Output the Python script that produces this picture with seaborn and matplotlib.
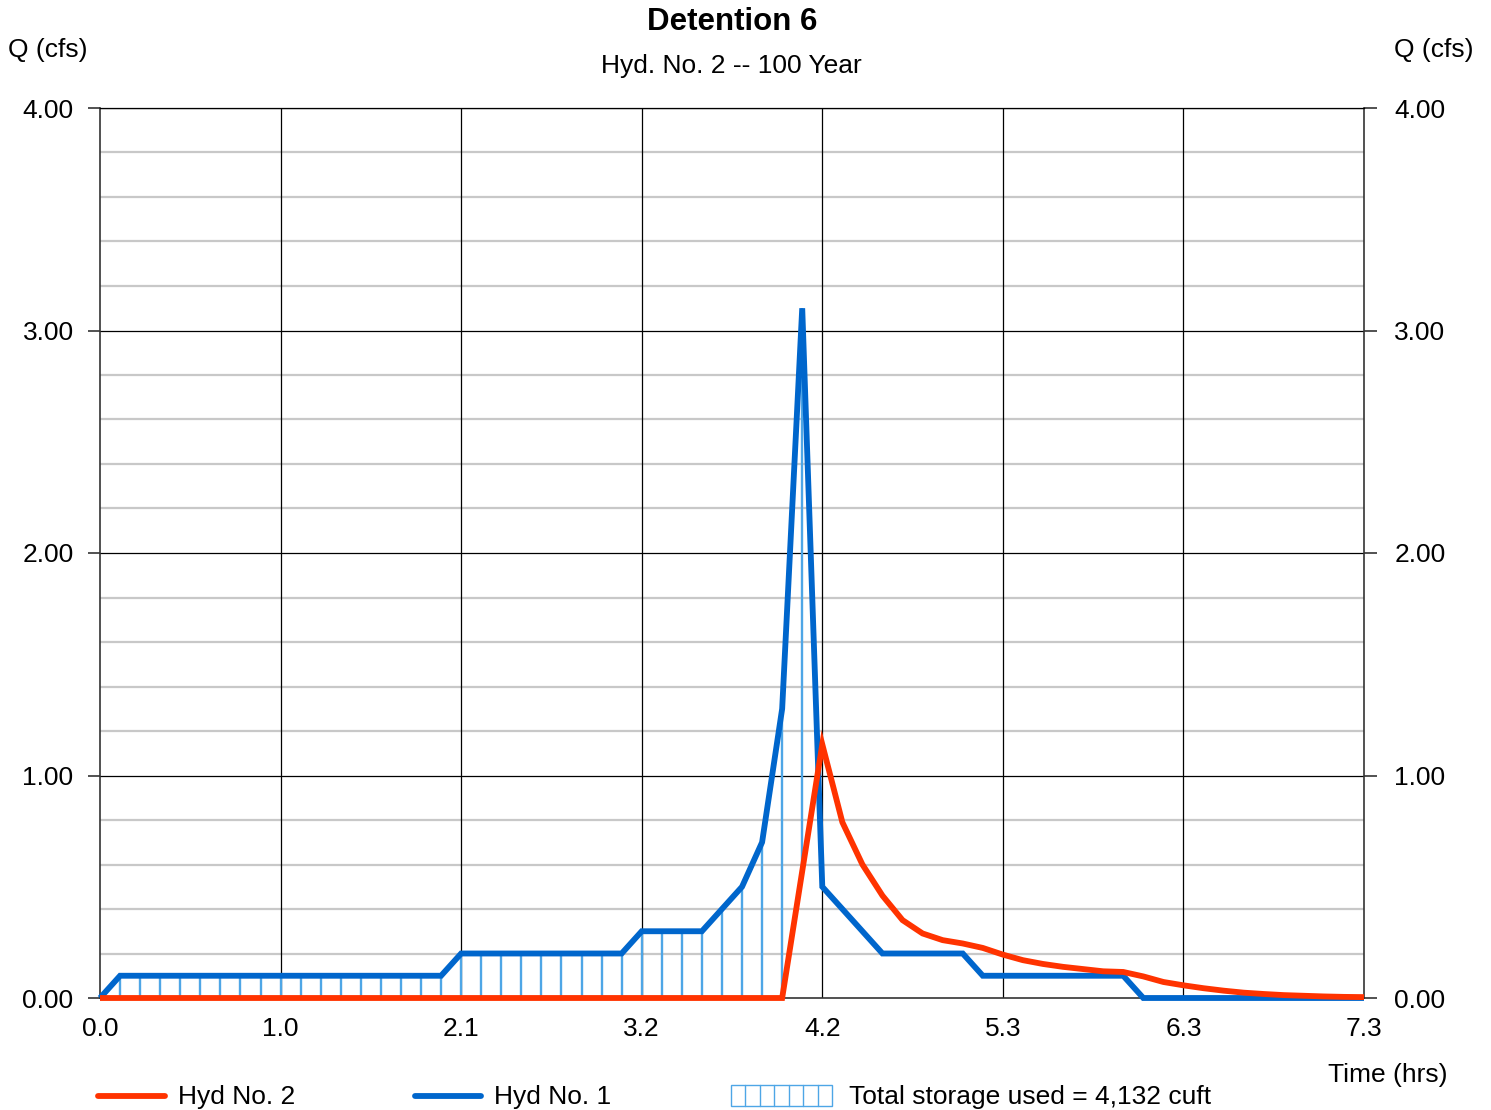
import numpy as np
import pandas as pd
import matplotlib
matplotlib.use("Agg")
import matplotlib.pyplot as plt
import matplotlib.transforms as mtransforms
import seaborn as sns
from matplotlib.lines import Line2D
from matplotlib.patches import Rectangle

# Hydrograph ordinates at a 7-minute time step
dt_hr = 7.0 / 60.0
hyd1_inflow = [0.0] + [0.1] * 17 + [0.2] * 9 + [0.3] * 4 + \
    [0.4, 0.5, 0.7, 1.3, 3.1, 0.5, 0.4, 0.3] + [0.2] * 5 + [0.1] * 8 + [0.0] * 12
hyd2_outflow = [0.0] * 35 + [
    0.57, 1.14, 0.79, 0.60, 0.46, 0.35, 0.29, 0.26, 0.245, 0.225,
    0.195, 0.17, 0.153, 0.14, 0.13, 0.12, 0.117, 0.097, 0.072, 0.057,
    0.044, 0.033, 0.024, 0.018, 0.013, 0.010, 0.007, 0.005, 0.004]
x_tick_labels = ["0.0", "1.0", "2.1", "3.2", "4.2", "5.3", "6.3", "7.3"]
y_ticks = [0.0, 1.0, 2.0, 3.0, 4.0]
y_tick_labels = ["0.00", "1.00", "2.00", "3.00", "4.00"]

title = "Detention 6"
subtitle = "Hyd. No. 2 -- 100 Year"
storage_label = "Total storage used = 4,132 cuft"

n = len(hyd1_inflow)
time = np.arange(n) * dt_hr
df = pd.DataFrame({"time": np.concatenate([time, time]),
                   "q": np.concatenate([hyd1_inflow, hyd2_outflow]),
                   "hyd": ["Hyd No. 1"] * n + ["Hyd No. 2"] * n})

RED = "#ff3300"
BLUE = "#0066cc"
HATCH = "#4ea6e6"

sns.set_style("white")
plt.rcParams["font.family"] = ["Liberation Sans", "DejaVu Sans"]
plt.rcParams["text.color"] = "black"
plt.rcParams["xtick.color"] = "black"
plt.rcParams["ytick.color"] = "black"
plt.rcParams["axes.labelcolor"] = "black"
FS = 19
LW = 4.2

W, H = 1491, 1110
fig = plt.figure(figsize=(W / 100, H / 100), dpi=100)
ax = fig.add_axes([100 / W, 1 - 998 / H, (1364 - 100) / W, (998 - 108) / H])

x_max = time[-1]
ax.set_xlim(0, x_max)
ax.set_ylim(0, 4.0)

# grid: light minor lines every 0.2 cfs, black major lines
for yv in np.arange(0.2, 4.0, 0.2):
    if abs(yv - round(yv)) > 1e-6:
        ax.axhline(yv, color="#c8c8c8", lw=1.6, zorder=0)
for yv in y_ticks[1:]:
    ax.axhline(yv, color="black", lw=0.9, zorder=0.5)
x_ticks = np.arange(8) * 9 * dt_hr
for xv in x_ticks[1:-1]:
    ax.axvline(xv, color="black", lw=0.9, zorder=0.5)

# storage hatch: vertical lines between outflow and inflow
h1 = np.array(hyd1_inflow)
h2 = np.array(hyd2_outflow)
mask = (h1 > h2) & (np.arange(n) <= 35)
ax.vlines(time[mask], h2[mask], h1[mask], color=HATCH, lw=1.7, zorder=1)

sns.lineplot(data=df, x="time", y="q", hue="hyd",
             hue_order=["Hyd No. 1", "Hyd No. 2"],
             palette={"Hyd No. 1": BLUE, "Hyd No. 2": RED},
             lw=LW, legend=False, ax=ax, zorder=3,
             solid_joinstyle="miter", solid_capstyle="butt")
ax.lines[-1].set_zorder(4)
for ln in ax.lines[-2:]:
    ln.set_clip_on(False)

ax.set_xlabel("")
ax.set_ylabel("")
ax.set_xticks(x_ticks)
ax.set_xticklabels(x_tick_labels, fontsize=FS)
ax.set_yticks(y_ticks)
ax.set_yticklabels(y_tick_labels, fontsize=FS)
ax.tick_params(axis="x", length=0, pad=14)
ax.tick_params(axis="y", length=9, width=1.2, color="#333333", pad=10,
               left=True, right=True, labelleft=True, labelright=True)
shift_right = mtransforms.ScaledTranslation(4 / 100, 0, fig.dpi_scale_trans)
for t in ax.yaxis.get_major_ticks():
    t.label2.set_fontsize(FS)
    t.label2.set_transform(t.label2.get_transform() + shift_right)
for side in ["left", "right", "bottom", "top"]:
    ax.spines[side].set_color("#333333")
    ax.spines[side].set_linewidth(1.2)
    ax.spines[side].set_visible(True)
ax.spines["top"].set_color("black")
ax.spines["top"].set_linewidth(0.9)

# titles and axis captions
fig.text(732 / W, 1 - 22 / H, title, ha="center", va="center",
         fontsize=22.5, fontweight="bold")
fig.text(731 / W, 1 - 66 / H, subtitle, ha="center", va="center", fontsize=FS)
fig.text(8 / W, 1 - 50 / H, "Q (cfs)", ha="left", va="center", fontsize=FS)
fig.text(1474 / W, 1 - 50 / H, "Q (cfs)", ha="right", va="center", fontsize=FS)
fig.text(1448 / W, 1 - 1075 / H, "Time (hrs)", ha="right", va="center", fontsize=FS)

# legend row
ly = 1 - 1097 / H
fig.add_artist(Line2D([98 / W, 165 / W], [1 - 1096 / H, 1 - 1096 / H], color=RED,
                      lw=LW, solid_capstyle="round", transform=fig.transFigure))
fig.text(178 / W, ly, "Hyd No. 2", ha="left", va="center", fontsize=FS)
fig.add_artist(Line2D([415 / W, 481 / W], [1 - 1096 / H, 1 - 1096 / H], color=BLUE,
                      lw=LW, solid_capstyle="round", transform=fig.transFigure))
fig.text(494 / W, ly, "Hyd No. 1", ha="left", va="center", fontsize=FS)
bx0, bx1, by0, by1 = 731, 832, 1085, 1106
fig.add_artist(Rectangle((bx0 / W, 1 - by1 / H), (bx1 - bx0) / W, (by1 - by0) / H,
                         fill=False, edgecolor=HATCH, lw=1.0,
                         transform=fig.transFigure))
for xv in np.linspace(bx0, bx1, 8)[1:-1]:
    fig.add_artist(Line2D([xv / W, xv / W], [1 - by1 / H, 1 - by0 / H],
                          color=HATCH, lw=1.0, transform=fig.transFigure))
fig.text(849 / W, ly, storage_label, ha="left", va="center", fontsize=FS)

fig.savefig("out.png", dpi=100)
